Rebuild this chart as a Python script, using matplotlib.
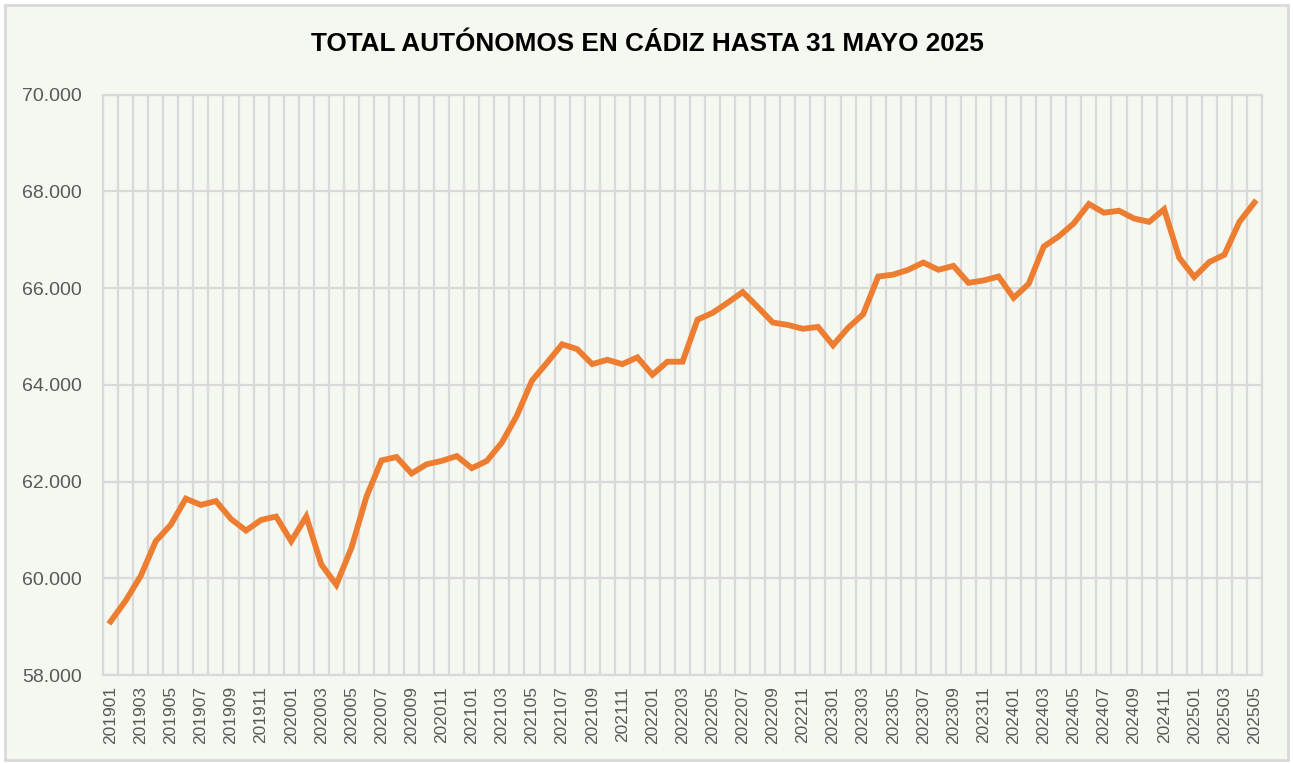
import numpy as np
import matplotlib
matplotlib.use("Agg")
import matplotlib.pyplot as plt
from matplotlib.patches import Rectangle
from matplotlib.ticker import FuncFormatter

# Autónomos afiliados en Cádiz, último día de cada mes (ene 2019 - may 2025)
years = [2019] * 12 + [2020] * 12 + [2021] * 12 + [2022] * 12 + [2023] * 12 + [2024] * 12 + [2025] * 5
months = list(range(1, 13)) * 6 + list(range(1, 6))
periodos = [f"{y}{m:02d}" for y, m in zip(years, months)]

autonomos = [
    59110, 59540, 60050, 60770, 61110, 61650, 61520, 61600, 61230, 60990, 61210, 61280,
    60770, 61280, 60290, 59870, 60630, 61690, 62440, 62510, 62170, 62360, 62430, 62530,
    62280, 62430, 62810, 63370, 64090, 64460, 64840, 64740, 64430, 64520, 64430, 64570,
    64210, 64480, 64480, 65350, 65490, 65700, 65920, 65610, 65290, 65240, 65160, 65200,
    64820, 65180, 65460, 66240, 66280, 66380, 66530, 66380, 66460, 66110, 66160, 66240,
    65800, 66090, 66860, 67070, 67340, 67740, 67560, 67600, 67440, 67370, 67630, 66630,
    66230, 66540, 66690, 67370, 67770,
]

titulo = "TOTAL AUTÓNOMOS EN CÁDIZ HASTA 31 MAYO 2025"

fondo = "#F4F8F1"
rejilla = "#D9D9D9"
naranja = "#ED7D31"
gris_texto = "#595959"
arial = ["Liberation Sans", "DejaVu Sans"]

fig = plt.figure(figsize=(12.93, 7.63), dpi=100, facecolor="white")
fig.patches.append(Rectangle((0.004, 0.004), 0.992, 0.99, transform=fig.transFigure,
                             facecolor=fondo, edgecolor=rejilla, linewidth=2, zorder=-10))

ax = fig.add_axes([0.0797, 0.115, 0.8963, 0.761])
ax.set_facecolor(fondo)

x = np.arange(len(autonomos))
ax.plot(x, autonomos, color=naranja, linewidth=4.2, solid_joinstyle="miter", zorder=3)

ax.set_xlim(-0.5, len(autonomos) - 0.5)
ax.set_ylim(58000, 70000)
ax.set_yticks(np.arange(58000, 70001, 2000))
ax.yaxis.set_major_formatter(FuncFormatter(lambda v, p: f"{v:,.0f}".replace(",", ".")))

ax.set_xticks(x[::2])
ax.set_xticklabels(periodos[::2], rotation=90, fontsize=12.5, color=gris_texto, family=arial)
ax.set_xticks(np.arange(-0.5, len(autonomos)), minor=True)

for lab in ax.get_yticklabels():
    lab.set_family(arial)
    lab.set_fontsize(14)
    lab.set_color(gris_texto)

ax.tick_params(axis="both", which="both", length=0)
ax.tick_params(axis="y", pad=15)
ax.tick_params(axis="x", pad=8)

ax.grid(True, axis="y", which="major", color=rejilla, linewidth=1.6)
ax.grid(True, axis="x", which="minor", color=rejilla, linewidth=1.6)
ax.grid(False, axis="x", which="major")
ax.set_axisbelow(True)
for s in ax.spines.values():
    s.set_color(rejilla)
    s.set_linewidth(1.6)

fig.text(0.501, 0.942, titulo, ha="center", va="center", fontsize=18.8,
         fontweight="bold", family=arial, color="black")

fig.savefig("out.png", dpi=100, facecolor="white")
